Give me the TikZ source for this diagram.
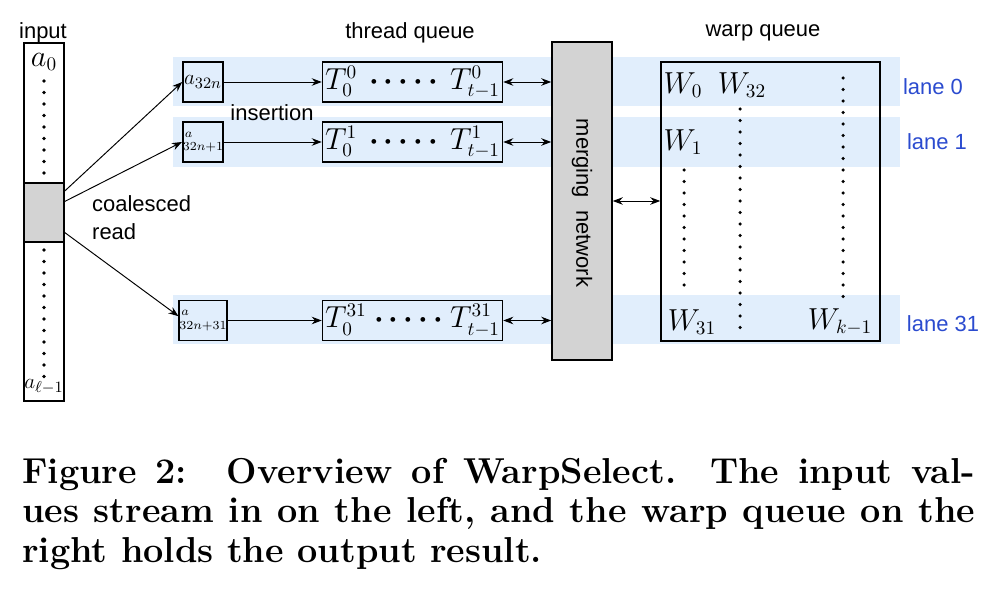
\documentclass[tikz,border=0pt]{standalone}
\usepackage{amsmath}
\usepackage{fontspec}
\setsansfont{Liberation Sans}
\usetikzlibrary{arrows.meta,positioning}
\definecolor{laneblue}{HTML}{E1EEFC}
\definecolor{lanetext}{HTML}{2B4BCF}
\definecolor{mergegray}{HTML}{D3D3D3}
\newcommand{\qdots}{${\boldsymbol\cdot}\,{\boldsymbol\cdot}\,{\boldsymbol\cdot}\,{\boldsymbol\cdot}\,{\boldsymbol\cdot}$}

\begin{document}
\begin{tikzpicture}[x=0.02cm,y=-0.02cm,>={Stealth[length=2mm,width=1.5mm]},every node/.append style={align=center},
  lbl/.style={font=\sffamily\fontsize{12.5}{16}\selectfont},
  lanelbl/.style={lbl,text=lanetext},
  mth/.style={font=\fontsize{16}{19}\selectfont},
  box/.style={draw,line width=0.9pt,inner sep=0pt},
  elem/.style={box,fill=laneblue,minimum size=0.8cm},
  tq/.style={box,fill=laneblue,minimum height=0.8cm,text width=3.5cm,inner xsep=0.05cm,align=left,font=\fontsize{16}{19}\selectfont},
  conn/.style={line width=0.55pt}]
        \useasboundingbox (0,0) rectangle (989,607);
        % lanes
        \foreach \t/\b in {57/106,117/167,295/344}
          \fill[laneblue] (173,\t) rectangle (900,\b);
        % input column
        \node [box,minimum width=0.8cm,minimum height=7.16cm] (col) at (44,222) {};
        \node [box,fill=mergegray,minimum width=0.8cm,minimum height=1.18cm] (rd) at (44,212.5) {};
        \node [lbl] (inlbl) at (43,33) {input};
        \node [mth] (a0) at (44,62) {$a_0$};
        \node [font=\fontsize{12.5}{15}\selectfont] (al) at (44,387) {$a_{\ell-1}$};
        \foreach \i in {0,...,8} \fill (44,81+11.5*\i) circle (1pt);
        \foreach \i in {0,...,11} \fill (44,250+11.5*\i) circle (1pt);
        % lane inputs
        \node [elem,font=\fontsize{13}{15}\selectfont] (e0) at (203,82) {$a_{32n}$};
        \node [elem,font=\fontsize{7.5}{8}\selectfont] (e1) at (203,142) {\shortstack[l]{\,$a$\\$32n{+}1$}};
        \node [elem,font=\fontsize{6.8}{7.5}\selectfont] (e31) at (203,320.5) {\shortstack[l]{\,$a$\\$32n{+}31$}};
        % thread queues
        \node [tq] (t0) at (412.5,82) {$T^0_0$\hfill\qdots\hfill$T^0_{t-1}$};
        \node [tq] (t1) at (412.5,142) {$T^1_0$\hfill\qdots\hfill$T^1_{t-1}$};
        \node [tq] (t31) at (412.5,320.5) {$T^{31}_0$\hfill\qdots\hfill$T^{31}_{t-1}$};
        \node [lbl] (tqlbl) at (410,33) {thread queue};
        % merging network
        \node [box,fill=mergegray,minimum width=1.2cm,minimum height=6.36cm] (mrg) at (582,201) {};
        \node [lbl,rotate=-90] (mrglbl) at (582,203) {merging\ \ network};
        % warp queue
        \node [box,minimum width=4.38cm,minimum height=5.58cm] (wq) at (770.5,201.5) {};
        \node [lbl] (wqlbl) at (763,33) {warp queue};
        \node [mth] (w0) at (683,85) {$W_0$};
        \node [mth] (w32) at (742,85) {$W_{32}$};
        \node [mth] (w1) at (683,142) {$W_1$};
        \node [mth] (w31) at (692,322) {$W_{31}$};
        \node [mth] (wk) at (840,322) {$W_{k-1}$};
        \foreach \i in {0,...,10} \fill (684,170+11.5*\i) circle (1pt);
        \foreach \i in {0,...,19} \fill (740,109+11.5*\i) circle (1pt);
        \foreach \i in {0,...,19} \fill (843,78+11.5*\i) circle (1pt);
        % lane names
        \node [lanelbl] (l0) at (933,87) {lane 0};
        \node [lanelbl] (l1) at (937,142) {lane 1};
        \node [lanelbl] (l31) at (943,324) {lane 31};
        % other labels
        \node [lbl] (ins) at (272,113) {insertion};
        \node [lbl,align=left,anchor=west] (rdlbl) at (86,218) {coalesced\\read};
        % connectors
        \draw [->,conn] (rd.46) -- (e0.west);
        \draw [->,conn] (rd.28) -- (e1.west);
        \draw [->,conn] (rd.-44) -- (e31.170);
        \draw [->,conn] (e0) -- (t0);
        \draw [->,conn] (e1) -- (t1);
        \draw [->,conn] (e31) -- (t31);
        \draw [<->,conn] (t0.east) -- (t0.east -| mrg.west);
        \draw [<->,conn] (t1.east) -- (t1.east -| mrg.west);
        \draw [<->,conn] (t31.east) -- (t31.east -| mrg.west);
        \draw [<->,conn] (mrg.east) -- (mrg.east -| wq.west);
        % caption
        \node [anchor=north west,inner sep=0pt,text width=19.06cm,align=justify,font=\bfseries\fontsize{20.5}{22.4}\selectfont] (cap) at (22,458)
          {Figure 2:\hspace{1.1em}Overview of WarpSelect. The input val-\linebreak ues stream in on the left, and the warp queue on the\linebreak right holds the output result.};
    \end{tikzpicture}
\end{document}
